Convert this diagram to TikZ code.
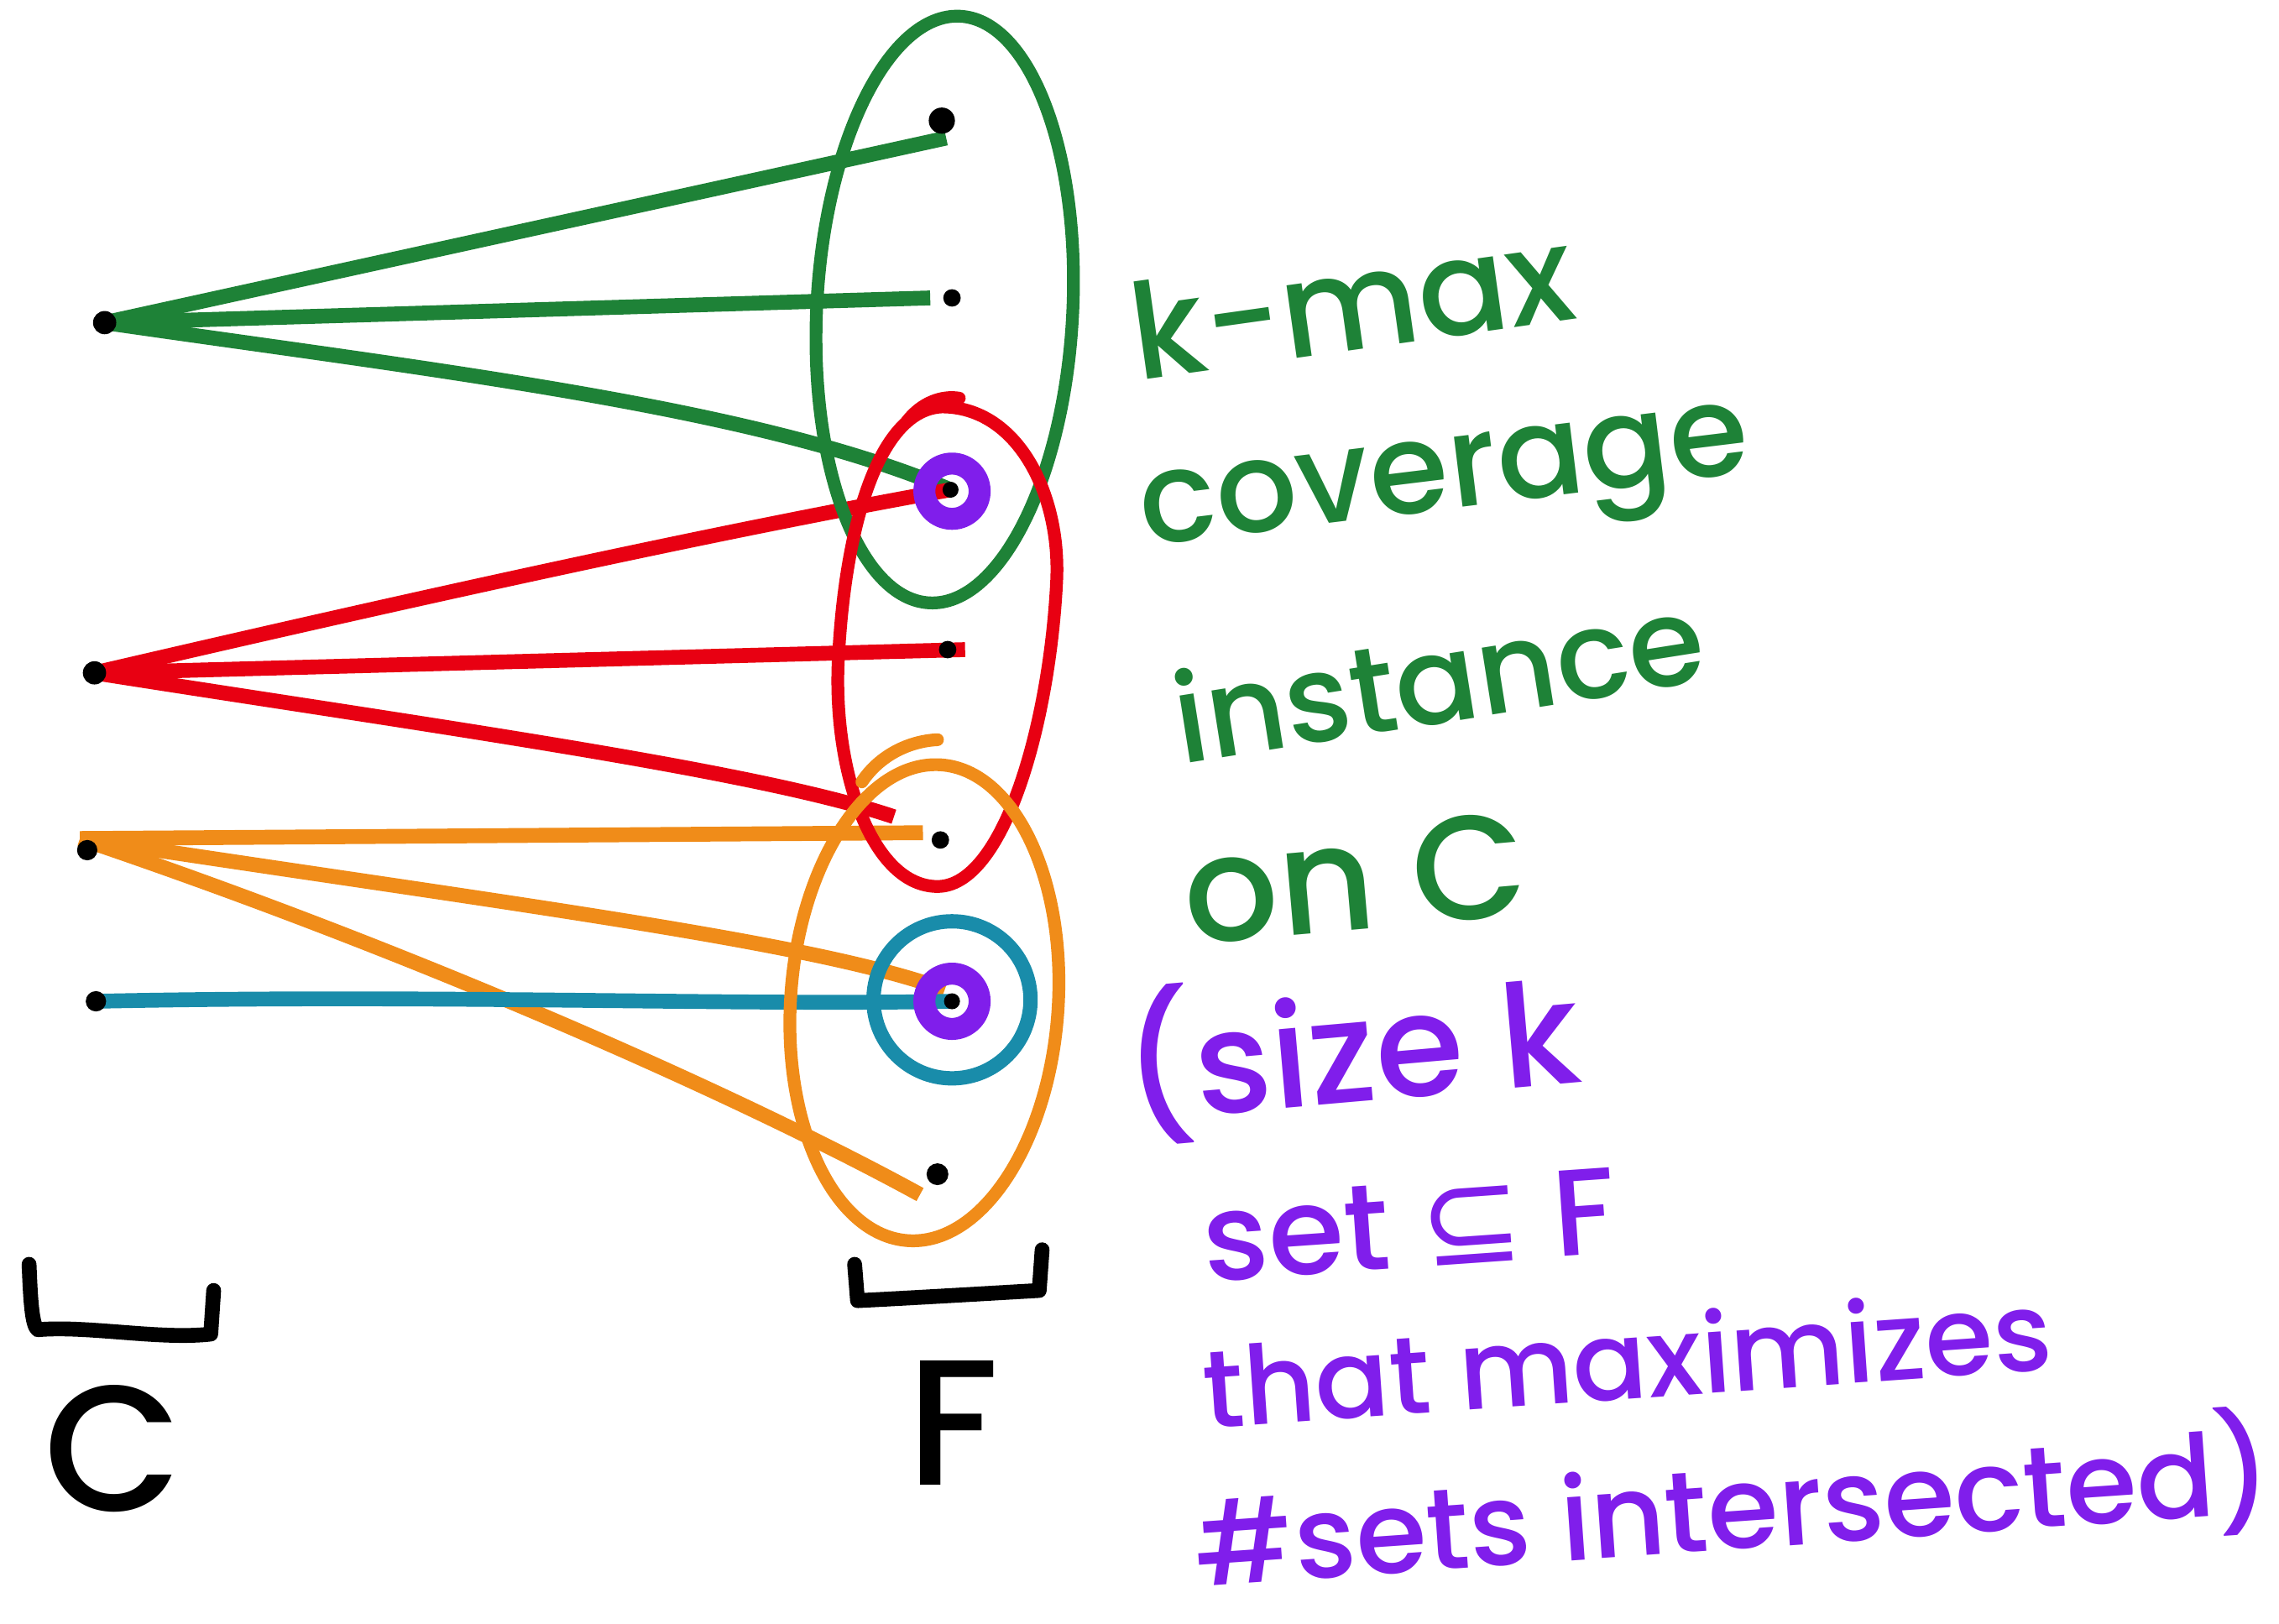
\documentclass[tikz,border=0pt]{standalone}
\usepackage{fontspec}
\setmainfont{Poppins Medium}
\newfontfamily\dejavu{DejaVu Sans}
\usetikzlibrary{calc}
\definecolor{gcol}{RGB}{30,130,55}
\definecolor{rcol}{RGB}{232,0,18}
\definecolor{ocol}{RGB}{240,140,25}
\definecolor{tcol}{RGB}{25,140,170}
\definecolor{pcol}{RGB}{128,30,235}
\pgfdeclarelayer{bg}
\pgfsetlayers{bg,main}
\begin{document}
\begin{tikzpicture}[x=0.01cm,y=-0.01cm,line cap=round,line join=round,
  dot/.style={circle,fill=black,inner sep=0pt,minimum size=0.14cm},
  wire/.style={line width=2.9pt},
  setloop/.style={line width=2.5pt},
  ring/.style={draw=pcol,line width=4.3pt,circle,minimum size=0.38cm,inner sep=0pt},
  bracket/.style={draw=black,line width=2.9pt},
  gtext/.style={text=gcol,anchor=base west,inner sep=0pt},
  ptext/.style={text=pcol,anchor=base west,inner sep=0pt},
  bigletter/.style={text=black,anchor=base,inner sep=0pt,font=\fontsize{35}{40}\selectfont}]
\useasboundingbox (0,0) rectangle (1568,1117);
% C side
\node[dot,minimum size=0.16cm] (c1) at (72,222) {};
\node[dot,minimum size=0.16cm] (c2) at (65,463) {};
\node[dot] (c3) at (60,585) {};
\node[dot] (c4) at (66,689) {};
% F side
\node[dot,minimum size=0.18cm] (f1) at (648,83) {};
\node[dot,minimum size=0.12cm] (f2) at (655,205) {};
\node[ring] (r3) at (655,338) {};
\node[dot,minimum size=0.11cm] (f3) at (654,337) {};
\node[dot,minimum size=0.12cm] (f4) at (652,447) {};
\node[dot,minimum size=0.12cm] (f5) at (647,578) {};
\node[ring] (r6) at (655,689) {};
\node[dot,minimum size=0.11cm] (f6) at (655,689) {};
\node[dot,minimum size=0.15cm] (f7) at (645,808) {};
\begin{pgfonlayer}{bg}
% green edges
\draw[wire,gcol] (c1.center) -- ([shift={(3,12)}]f1.center);
\draw[wire,gcol] (c1.center) -- ([shift={(-15,0)}]f2.center);
\draw[wire,gcol] (c1.center) .. controls (300,255) and (520,280) .. (f3.center);
% red edges
\draw[wire,rcol] (c2.center) .. controls (250,420) and (480,368) .. (f3.center);
\draw[wire,rcol] (c2.center) -- ([shift={(12,0)}]f4.center);
\draw[wire,rcol] (c2.center) .. controls (300,500) and (520,530) .. ([shift={(-32,-16)}]f5.center);
% orange edges
\draw[wire,ocol] ([shift={(-5,-8)}]c3.center) -- ([shift={(-12,-5)}]f5.center);
\draw[wire,ocol] ([shift={(-5,-8)}]c3.center) .. controls (350,622) and (560,648) .. ([shift={(-5,-8)}]f6.center);
\draw[wire,ocol] ([shift={(-5,-8)}]c3.center) .. controls (300,660) and (520,760) .. ([shift={(-12,14)}]f7.center);
% teal edge
\draw[wire,tcol] (c4.center) .. controls (300,684) and (500,692) .. (f6.center);
\end{pgfonlayer}
% set loops
\draw[setloop,gcol,rotate around={-3:(650,213)}] (650,213) ellipse [x radius=0.88cm,y radius=2.02cm];
\draw[setloop,rcol] (648,280) .. controls (700,280) and (730,340) .. (727,400)
  .. controls (722,500) and (690,610) .. (645,610)
  .. controls (600,610) and (572,530) .. (577,450)
  .. controls (582,360) and (605,282) .. (648,280);
\draw[setloop,rcol] (624,290) .. controls (634,277) and (648,272) .. (660,274);
\draw[setloop,ocol,rotate around={-4:(636,690)}] (636,690) ellipse [x radius=0.92cm,y radius=1.64cm];
\draw[setloop,ocol] (593,538) .. controls (605,520) and (625,510) .. (645,509);
\draw[setloop,tcol,line width=2.8pt] (655,688) circle [radius=0.54cm];
% brackets
\draw[bracket] (20,870) .. controls (21,895) and (22,912) .. (26,915)
  .. controls (60,912) and (110,922) .. (145,918) -- (147,888);
\draw[bracket] (588,870) -- (590,895) .. controls (630,893) and (680,890) .. (715,888) -- (717,860);
\node[bigletter] (cl) at (78,1040) {C};
\node[bigletter] (fl) at (656,1022) {F};
% green text
\node[gtext,rotate=8,font=\fontsize{26}{30}\selectfont] (t1) at (782,262) {k-max};
\node[gtext,rotate=7,font=\fontsize{25}{30}\selectfont] (t2) at (787,376) {coverage};
\node[gtext,rotate=9,font=\fontsize{24}{30}\selectfont] (t3) at (812,526) {instance};
\node[gtext,rotate=5,font=\fontsize{29}{34}\selectfont] (t4) at (817,650) {on C};
% purple text
\node[ptext,rotate=5,font=\fontsize{28}{32}\selectfont] (t5) at (776,772) {(size k};
\node[ptext,rotate=4,font=\fontsize{24}{28}\selectfont] (t6) at (829,882) {set\hspace{0.25em}{\dejavu ⊆}\hspace{0.25em}F};
\node[ptext,rotate=4,font=\fontsize{21.5}{26}\selectfont] (t7) at (829,983) {that maximizes};
\node[ptext,rotate=4,font=\fontsize{22.5}{26}\selectfont] (t8) at (823,1092) {\#sets intersected)};
\end{tikzpicture}
\end{document}
